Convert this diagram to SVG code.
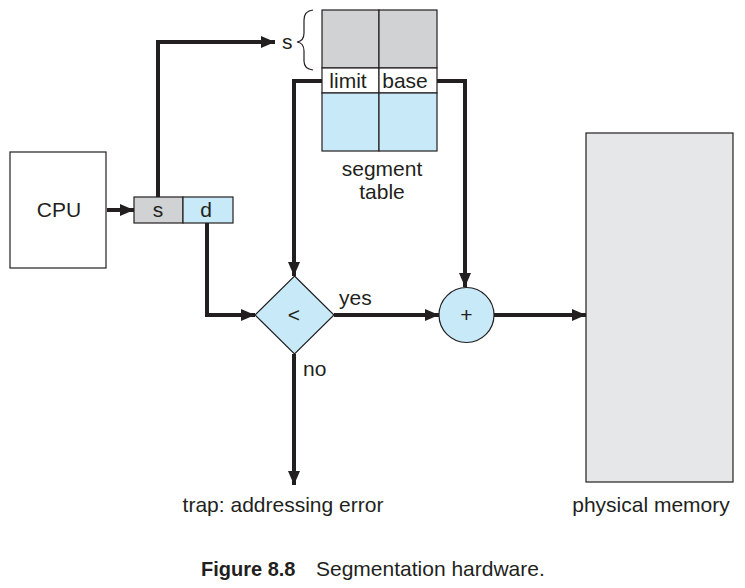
<svg xmlns="http://www.w3.org/2000/svg" width="745" height="588" viewBox="0 0 745 588">
<style>
text{font-family:"Liberation Sans",Arial,sans-serif;fill:#231f20;font-size:21px}
.c{text-anchor:middle}
.box{stroke:#231f20;stroke-width:1.2}
.ln{fill:none;stroke:#231f20;stroke-width:4}
</style>
<defs>
<marker id="ah" viewBox="0 0 14 12" refX="14" refY="6" markerWidth="14" markerHeight="12" markerUnits="userSpaceOnUse" orient="auto">
<path d="M0,0 L14,6 L0,12 Z" fill="#231f20"/>
</marker>
</defs>
<rect width="745" height="588" fill="#fff"/>
<g id="connectors">
<path class="ln" d="M107,210 H134" marker-end="url(#ah)"/>
<path class="ln" d="M158,197 V42 H275" marker-end="url(#ah)"/>
<path class="ln" d="M322,81 H294 V276" marker-end="url(#ah)"/>
<path class="ln" d="M437,81 H465 V287" marker-end="url(#ah)"/>
<path class="ln" d="M207,223 V315 H255" marker-end="url(#ah)"/>
<path class="ln" d="M334,315 H439" marker-end="url(#ah)"/>
<path class="ln" d="M494,315 H586" marker-end="url(#ah)"/>
<path class="ln" d="M294,354 V485" marker-end="url(#ah)"/>
</g>
<g id="cpu">
<rect class="box" x="10" y="152" width="96" height="116" fill="#fff"/>
<text class="c" x="59" y="217">CPU</text>
</g>
<g id="address">
<rect class="box" x="134" y="197" width="49" height="26" fill="#d1d2d4"/>
<rect class="box" x="183" y="197" width="50" height="26" fill="#c7e9f8"/>
<text class="c" x="158" y="217">s</text>
<text class="c" x="206" y="217">d</text>
</g>
<g id="segment-table">
<rect class="box" x="322" y="10" width="57" height="58" fill="#d1d2d4"/>
<rect class="box" x="379" y="10" width="58" height="58" fill="#d1d2d4"/>
<rect class="box" x="322" y="68" width="57" height="25" fill="#fff"/>
<rect class="box" x="379" y="68" width="58" height="25" fill="#fff"/>
<rect class="box" x="322" y="93" width="57" height="58" fill="#c7e9f8"/>
<rect class="box" x="379" y="93" width="58" height="58" fill="#c7e9f8"/>
<text class="c" x="348" y="88">limit</text>
<text class="c" x="405" y="88">base</text>
<text class="c" x="382" y="176">segment</text>
<text class="c" x="382" y="199">table</text>
<text x="282" y="49">s</text>
<path d="M313,10 Q304,11 304,20 V33 Q304,41 297,42 Q304,43 304,51 V61 Q304,69 313,70" fill="none" stroke="#231f20" stroke-width="1.2"/>
</g>
<g id="compare">
<path class="box" d="M294.5,276 L334,315 L294.5,354 L255,315 Z" fill="#c7e9f8"/>
<text class="c" x="294" y="322">&lt;</text>
<text x="339" y="305">yes</text>
<text x="303" y="376">no</text>
</g>
<g id="adder">
<circle class="box" cx="466.5" cy="315" r="27.5" fill="#c7e9f8"/>
<text class="c" x="466.5" y="322">+</text>
</g>
<g id="memory">
<rect class="box" x="586" y="133" width="147" height="349" fill="#e6e7e9"/>
<text class="c" x="651" y="512">physical memory</text>
</g>
<g id="trap">
<text class="c" x="283" y="512">trap: addressing error</text>
</g>
<g id="caption">
<text x="201" y="576" style="font-size:20px;font-weight:bold">Figure 8.8</text>
<text x="316" y="576">Segmentation hardware.</text>
</g>
</svg>
